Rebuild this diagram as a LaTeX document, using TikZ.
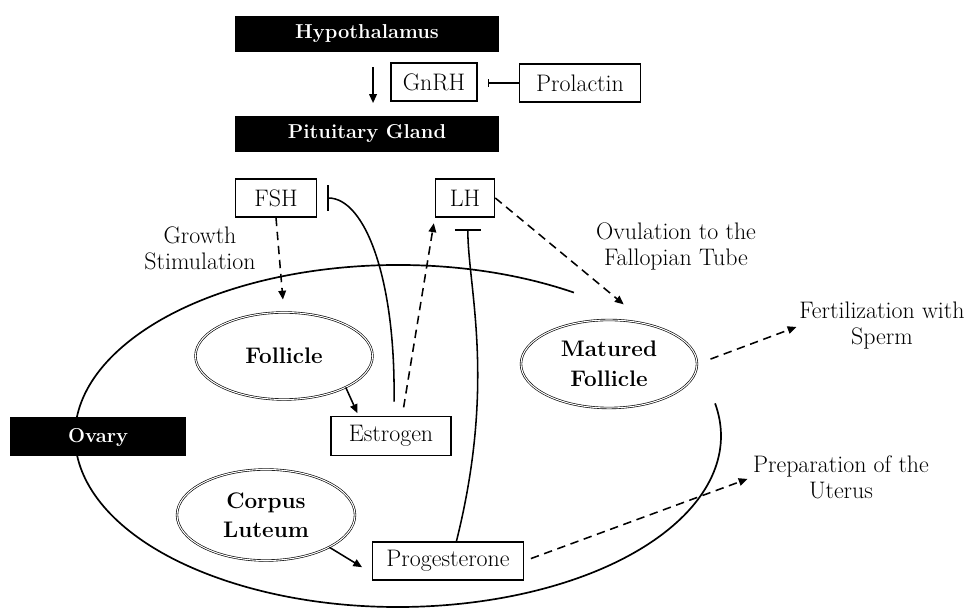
\documentclass[tikz,border=0pt]{standalone}
\usepackage{tikz}
\usetikzlibrary{arrows.meta,shapes.geometric,positioning,calc}
\newcommand{\plainfont}{\fontsize{17}{18.5}\selectfont}
\newcommand{\cellfont}{\fontsize{16}{21}\selectfont\bfseries}
\newcommand{\blockfont}{\fontsize{14.3}{16}\selectfont\bfseries}
\tikzset{
    organ/.style={rectangle,fill=black,text=white,font=\blockfont,inner sep=0pt,minimum height=0.9cm},
    hormone/.style={rectangle,draw,line width=1.1pt,font=\plainfont,inner sep=0pt,minimum height=0.95cm},
    cell/.style={ellipse,draw,double,line width=0.45pt,double distance=0.75pt,font=\cellfont,align=center,inner sep=0pt},
    note/.style={font=\plainfont,align=center,inner sep=0pt},
    arr/.style={-{Triangle[length=2.2mm,width=1.9mm]},line width=1.1pt},
    dasharr/.style={arr,dash pattern=on 6pt off 4pt},
    inhib/.style={-{Bar[width=6.5mm]},line width=1.1pt},
    inhibsmall/.style={-{Bar[width=1.8mm]},line width=1.1pt}
}

\begin{document}
\begin{tikzpicture}[x=0.025cm,y=0.025cm]
  \useasboundingbox (0,0) rectangle (968,610);
  % brain side
  \node[organ,minimum width=6.6cm] (hypo) at (367,576) {Hypothalamus};
  \node[organ,minimum width=6.6cm] (pit) at (367,476) {Pituitary Gland};
  \node[hormone,minimum width=2.15cm] (gnrh) at (434,528) {GnRH};
  \node[hormone,minimum width=3.025cm] (prl) at (580,527) {Prolactin};
  \node[hormone,minimum width=2.025cm] (fsh) at (276,412) {FSH};
  \node[hormone,minimum width=1.475cm] (lh) at (465,412) {LH};
  % ovary outline, open next to the matured follicle
  \coordinate (ovc) at (398,174);
  \draw[line width=1.2pt] (ovc) ++(57:323 and 171)
    arc[start angle=57,end angle=371,x radius=323,y radius=171];
  \node[organ,minimum width=4.375cm,minimum height=0.975cm] (ovary) at (98,173) {Ovary};
  % inside the ovary
  \node[cell,minimum width=4.425cm,minimum height=2.175cm] (follicle) at (284,254) {Follicle};
  \node[cell,minimum width=4.45cm,minimum height=2.275cm] (corpus) at (266,95) {Corpus\\Luteum};
  \node[cell,minimum width=4.4cm,minimum height=2.2cm] (matured) at (609,246) {Matured\\Follicle};
  \node[hormone,minimum width=3cm,minimum height=0.975cm] (estrogen) at (391,174) {Estrogen};
  \node[hormone,minimum width=3.775cm] (prog) at (448,49) {Progesterone};
  % labels
  \node[note] (growth) at (200,362) {Growth\\Stimulation};
  \node[note] (ovulation) at (676,364) {Ovulation to the\\Fallopian Tube};
  \node[note] (fert) at (882,284) {Fertilization with\\Sperm};
  \node[note] (uterus) at (841,133) {Preparation of the\\Uterus};
  % connectors
  \draw[arr,shorten <=10.5pt,shorten >=9pt] ([xshift=4.3pt]hypo.south) -- ([xshift=4.3pt]pit.north);
  \draw[inhibsmall,shorten >=7pt] (prl.west) -- (gnrh.east |- prl.west);
  \draw[dasharr,shorten >=9pt] (fsh.south) -- (follicle.north);
  \draw[arr,shorten >=2pt] (follicle.-27) -- (estrogen.148);
  \draw[dasharr,shorten <=6pt,shorten >=4pt] ([xshift=8pt]estrogen.north) -- (lh.south west);
  \draw[inhib,shorten <=10pt,shorten >=7pt] ([xshift=2pt]estrogen.north)
    .. controls +(2,136) and +(48,0) .. (fsh.east);
  \draw[inhib,shorten >=8pt] ([xshift=6pt]prog.north)
    .. controls +(40,160) and +(0,-70) .. ([xshift=2pt]lh.south);
  \draw[dasharr,shorten >=22pt] (lh.east) -- (matured.46);
  \draw[dasharr,shorten <=10pt,shorten >=2pt] (matured.east) -- (fert.west);
  \draw[arr,shorten >=8pt] (corpus.-27) -- (prog.189);
  \draw[dasharr,shorten <=5pt,shorten >=4pt] (prog.east) -- (uterus.west);
\end{tikzpicture}
\end{document}
